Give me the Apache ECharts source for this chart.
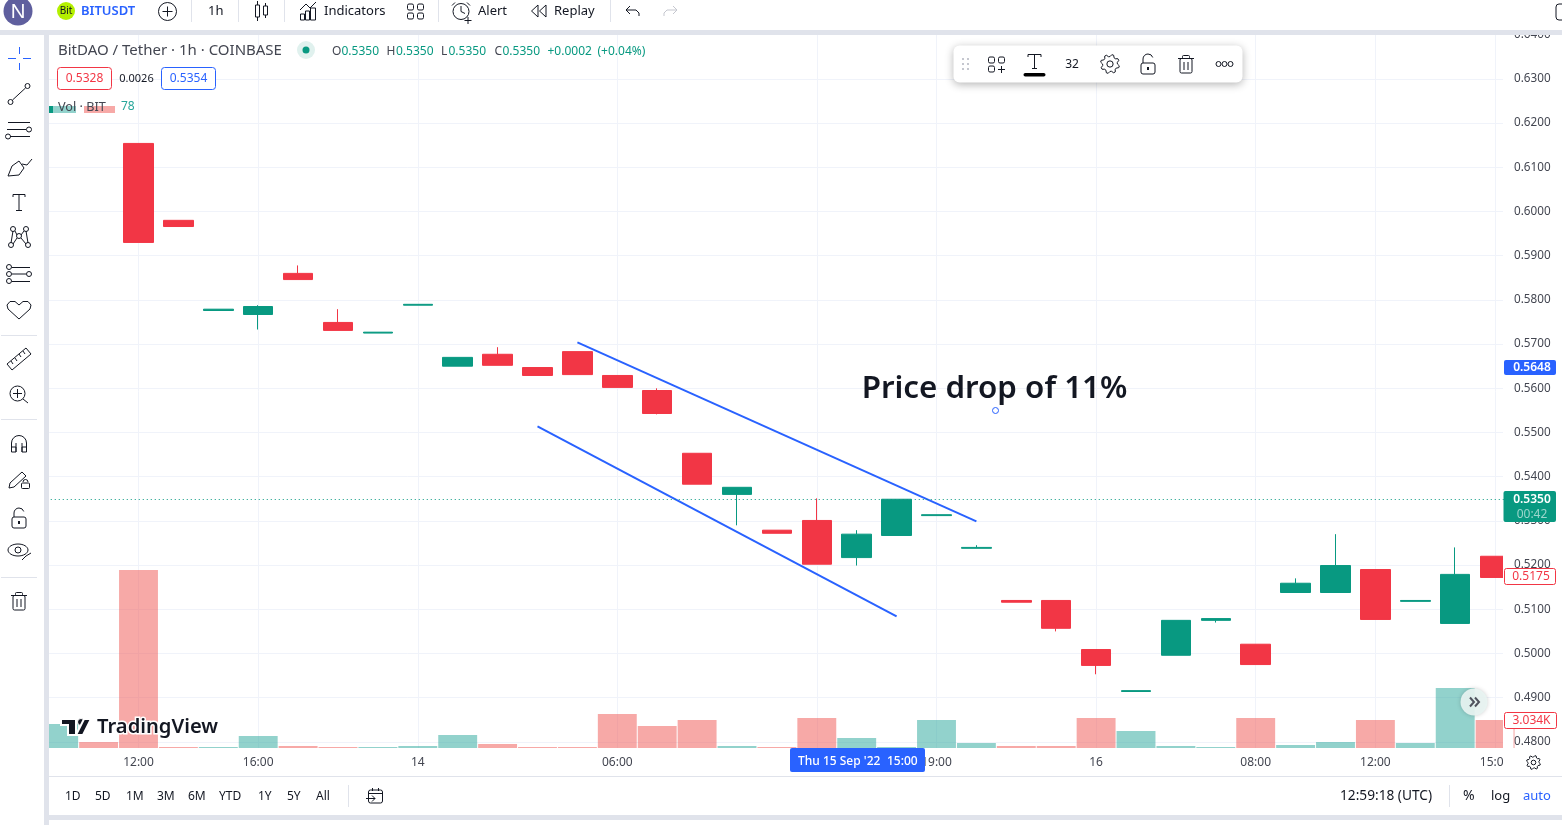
<!DOCTYPE html>
<html><head><meta charset="utf-8">
<style>html,body{margin:0;padding:0;background:#fff;overflow:hidden}#c{width:1562px;height:825px}</style>
<script src="https://cdn.jsdelivr.net/npm/echarts@6/dist/echarts.min.js"></script>
</head><body><div id="c"></div>
<script>
const timeLabels=['','','12:00','','','16:00','','','','14','','','','','06:00','','','','','','','','19:00','','','','16','','','','08:00','','','12:00','','','15:00'];
const gridLineIdx=[2,5,9,14,19,22,26,30,33,36];
const opens=[null,null,.6154,.5980,.5776,.5767,.5860,.5749,.5725,.5788,.5650,.5677,.5647,.5683,.5629,.5595,.5453,.5360,.5279,.5301,.5217,.5267,.5312,.5238,.5120,.5120,.5009,.4914,.4996,.5075,.5021,.5138,.5138,.5190,.5118,.5068,.5220];
const closes=[null,null,.5930,.5966,.5779,.5785,.5846,.5731,.5727,.5790,.5670,.5652,.5629,.5631,.5602,.5543,.5383,.5376,.5272,.5202,.5270,.5349,.5314,.5240,.5116,.5057,.4973,.4916,.5075,.5079,.4975,.5159,.5199,.5077,.5120,.5179,.5172];
const lows=[null,null,.5930,.5966,.5776,.5733,.5846,.5731,.5725,.5788,.5650,.5652,.5629,.5631,.5602,.5541,.5383,.5290,.5272,.5202,.5199,.5267,.5312,.5238,.5116,.5050,.4953,.4914,.4996,.5070,.4975,.5138,.5138,.5077,.5118,.5068,.5172];
const highs=[null,null,.6154,.5980,.5779,.5788,.5878,.5779,.5727,.5790,.5670,.5693,.5647,.5683,.5629,.5600,.5453,.5376,.5279,.5351,.5279,.5349,.5314,.5245,.5120,.5120,.5009,.4916,.5075,.5079,.5021,.5170,.5270,.5190,.5120,.5240,.5220];
const volumes=[2600,650,19290,110,110,1300,220,110,110,220,1410,435,110,110,3685,2385,3034,220,110,3250,1085,110,3034,540,220,220,3250,1840,220,110,3250,325,650,3034,540,6500,3034];
const volumeUp=[1,0,0,0,1,1,0,0,1,1,1,0,0,0,0,0,0,1,0,0,1,1,1,1,0,0,0,1,1,1,0,1,1,0,1,1,0];
const priceTicks={min:.47,max:.64,interval:.01};
const trendLines=[[[13,.5704],[23,.5299]],[[12,.5514],[21,.5084]]];
const lastPriceLine=.5348;

const F='"Noto Sans"',K='#131722',G='#434651',B='#2962ff',UP='#089981',DN='#f23645',BAND='#e0e3eb';
const g=[];
const add=(e,z)=>{e.z=z==null?30:z;e.silent=true;g.push(e);return e;};
const L=(x1,y1,x2,y2,c,w,z)=>add({type:'line',shape:{x1,y1,x2,y2},style:{stroke:c||K,lineWidth:w||1}},z);
const R=(x,y,w,h,st,r,z)=>add({type:'rect',shape:{x,y,width:w,height:h,r:r||0},style:Object.assign({fill:'none'},st)},z);
const C=(cx,cy,r,st,z)=>add({type:'circle',shape:{cx,cy,r},style:Object.assign({fill:'none',stroke:K,lineWidth:1},st)},z);
const P=(pts,st,z)=>add({type:'polyline',shape:{points:pts},style:Object.assign({fill:'none',stroke:K,lineWidth:1},st)},z);
const PG=(pts,st,z)=>add({type:'polygon',shape:{points:pts},style:Object.assign({fill:K},st)},z);
const A=(cx,cy,r,s,e,st,z)=>add({type:'arc',shape:{cx,cy,r,startAngle:s,endAngle:e},style:Object.assign({fill:'none',stroke:K,lineWidth:1},st)},z);
const T=(x,y,text,size,color,o,z)=>add({type:'text',style:Object.assign({x,y:y+1,text,font:`${(o&&o.weight)||400} ${size}px ${F}`,fill:color||K,align:'left',verticalAlign:'middle'},o&&o.extra)},z);

/* panels */
R(1503,35,10.5,741,{fill:'#fff'},0,5);
R(0,0,1562,30,{fill:'#fff'},0,20);
R(0,30,1562,5,{fill:BAND},0,20);
R(0,35,44,790,{fill:'#fff'},0,20);
R(44,30,5,795,{fill:BAND},0,20);
R(49,776,1513,39,{fill:'#fff'},0,20);
R(49,776,1513,1,{fill:BAND},0,21);
R(49,815,1513,5,{fill:BAND},0,21);

/* top toolbar */
C(18,11,14.5,{fill:'#5f5f9e',stroke:'none'});
T(18,11,'N',20,'#fff',{extra:{align:'center'}});
C(66,11,9,{fill:'#b4f000',stroke:'none'});
T(66,10.5,'Bit',10,K,{extra:{align:'center'}});
T(81,10.5,'BITUSDT',13,B,{weight:600});
C(167.5,11.5,9);L(162.5,11.5,172.5,11.5);L(167.5,6.5,167.5,16.5);
[191,238,284,438,610].forEach(x=>L(x+.5,0,x+.5,22,BAND));
T(208,10.5,'1h',13,K);
R(255.5,5,4,12,{stroke:K,lineWidth:1});L(257.5,1,257.5,5);L(257.5,17,257.5,21);
R(263.5,6,4,9,{stroke:K,lineWidth:1});L(265.5,3,265.5,6);L(265.5,15,265.5,18);
P([[300,10],[306,4],[310,8],[316,2]]);
R(300.5,14,4,6,{stroke:K,lineWidth:1});R(305.5,11,4,9,{stroke:K,lineWidth:1});R(310.5,8,5,12,{stroke:K,lineWidth:1});
T(324,10.5,'Indicators',13,K);
R(407.5,4,6,6,{stroke:K,lineWidth:1},1.5);R(417.5,4,6,6,{stroke:K,lineWidth:1},1.5);R(407.5,13,6,6,{stroke:K,lineWidth:1},1.5);R(417.5,13,6,6,{stroke:K,lineWidth:1},1.5);
C(461,11.5,8);L(461,6,461,11.5);L(461,11.5,465,13.5);L(455,2.5,452,5.5);L(467,2.5,470,5.5);L(468,17,468,24);L(464.5,20.5,471.5,20.5);
T(478,10.5,'Alert',13,K);
P([[538,5],[531.5,11],[538,17],[538,5]]);P([[546,5],[539.5,11],[546,17],[546,5]]);
T(554,10.5,'Replay',13,K);
P([[630,6],[626,10],[630,14]]);P([[626,10],[636,10],[639,13],[639,16]]);
P([[673,6],[677,10],[673,14]],{stroke:'#c5c7cf'});P([[677,10],[667,10],[664,13],[664,16]],{stroke:'#c5c7cf'});
R(1556,4,12,16,{stroke:K,lineWidth:1},3);

/* legend */
T(58,50,'BitDAO / Tether · 1h · COINBASE',15,G);
C(306,50,9,{fill:'#e0f1ee',stroke:'none'});C(306,50,3.5,{fill:UP,stroke:'none'});
[['O',332,'0.5350',341.5],['H',386.5,'0.5350',396],['L',441,'0.5350',448.5],['C',494.5,'0.5350',502.5]].forEach(a=>{T(a[1],50.5,a[0],12,G);T(a[3],50.5,a[2],12,UP);});
T(547.5,50.5,'+0.0002',12,UP);T(597.5,50.5,'(+0.04%)',12,UP);
R(57.5,67.5,54,22,{fill:'#fff',stroke:DN,lineWidth:1},3);T(84.5,78,'0.5328',12,DN,{extra:{align:'center'}});
T(136.5,78,'0.0026',11,K,{extra:{align:'center'}});
R(161.5,67.5,54,22,{fill:'#fff',stroke:B,lineWidth:1},3);T(188.5,78,'0.5354',12,B,{extra:{align:'center'}});
R(49,106,27,7,{fill:'#92d2cc',stroke:'none'});R(49,106,4,7,{fill:UP,stroke:'none'});R(84,106,31,7,{fill:'#f7a9a7',stroke:'none'});
T(58,106,'Vol · BIT',12.7,G);T(121,106,'78',12,'#26a69a');

/* floating tool bar */
R(953.5,45.5,289,37,{fill:'#fff',stroke:'none',shadowBlur:8,shadowColor:'rgba(0,0,0,.3)',shadowOffsetY:2},6,25);
[59,64,69].forEach(y=>{R(962,y-1,2,2,{fill:'#c5c7cf'});R(967,y-1,2,2,{fill:'#c5c7cf'});});
R(988.5,57,6,6,{stroke:K,lineWidth:1},1.5);R(998.5,57,6,6,{stroke:K,lineWidth:1},1.5);R(988.5,66,6,6,{stroke:K,lineWidth:1},1.5);L(998,69.5,1005,69.5);L(1001.5,66,1001.5,73);
L(1028,54.5,1041,54.5);L(1028,54.5,1028,57);L(1041,54.5,1041,57);L(1034.5,54.5,1034.5,68);L(1032,68.5,1037,68.5);
R(1023.5,73,22,3.5,{fill:'#000'},1.75);
T(1072,63.5,'32',12,K,{extra:{align:'center'}});
const gear=(cx,cy,r)=>{const pts=[];for(let i=0;i<32;i++){const a=i*Math.PI/16;const rr=(i%4<2)?r:r*.78;pts.push([cx+rr*Math.cos(a+Math.PI/16),cy+rr*Math.sin(a+Math.PI/16)]);}add({type:'polygon',shape:{points:pts},style:{fill:'none',stroke:K,lineWidth:1}});C(cx,cy,r*.33);};
gear(1110,64,9.5);
const lock=(x,y)=>{R(x-7,y-1,14,11,{stroke:K,lineWidth:1},2);A(x,y-5,5,Math.PI,-Math.PI*.1,{},30);L(x-5,y-5,x-5,y-1);L(x,y+3,x,y+6,K,2);};
lock(1148,64);
const trash=(x,y)=>{L(x-8,y-5.5,x+8,y-5.5);R(x-3.5,y-8.5,7,3,{stroke:K,lineWidth:1},1);R(x-6,y-5.5,12,14.5,{stroke:K,lineWidth:1},1.5);L(x-2,y-2,x-2,y+6);L(x+2,y-2,x+2,y+6);};
trash(1186,64);
[1218.5,1224.5,1230.5].forEach(x=>C(x,64,2.5));

/* drawing tools */
L(19.5,47,19.5,54,B);L(19.5,63,19.5,70,B);L(8,58.5,16,58.5,B);L(23,58.5,31,58.5,B);
C(10.5,102,2.5);C(27.5,86,2.5);L(12.5,100,25.5,88);
L(8,122.5,30,122.5);L(7,129.5,26,129.5);C(29,129.5,2.5);L(10,136.5,30,136.5);C(8,136.5,2.5);
P([[8,176],[12,166],[19,161],[24,168],[19,175],[8,176]]);P([[22,164],[27,165],[32,159]]);
L(13,194.5,25,194.5);L(13,194.5,13,197);L(25,194.5,25,197);L(19,194.5,19,210);L(16,210.5,22,210.5);
[[13,229],[26,229],[19,236],[11,245],[28,245]].forEach(p=>C(p[0],p[1],2.5));L(13,231,11,243);L(15,231,17,235);L(24,231,21,235);L(17,238,13,244);L(21,238,26,244);L(26,231,28,243);
C(9,267,2.5);L(12,267.5,30,267.5);C(9,274,2.5);C(29,274,2.5);L(12,274,26,274);C(9,281,2.5);L(12,281.5,30,281.5);
P([[19,319],[8,309],[7,305],[10,301.5],[15,301.5],[19,305],[23,301.5],[28,301.5],[31,305],[30,309],[19,319]]);
L(1,335.5,37,335.5,BAND);L(1,419.5,37,419.5,BAND);L(1,577.5,37,577.5,BAND);
add({type:'polygon',shape:{points:[[7,364],[26,348],[31,354],[12,370]]},style:{fill:'none',stroke:K,lineWidth:1}});
[[11,361,13,364],[15,358,17,361],[19,354,21,357],[23,351,25,354]].forEach(a=>L(a[0],a[1],a[2],a[3]));
C(17.5,393.5,7.5);L(13,393.5,22,393.5);L(17.5,389,17.5,398);L(23,399,28,403);
A(19,443,7.5,Math.PI,0,{},30);L(11.5,443,11.5,452);L(26.5,443,26.5,452);L(16,443,16,452);L(22,443,22,452);R(11.5,447,4.5,5,{stroke:K,lineWidth:1});R(22,447,4.5,5,{stroke:K,lineWidth:1});
add({type:'polygon',shape:{points:[[10,483],[22,472],[26,476],[14,487],[9,488]]},style:{fill:'none',stroke:K,lineWidth:1}});
R(21.5,483,8,5.5,{fill:'#fff',stroke:K,lineWidth:1},1);A(25.5,482,2.5,Math.PI,0,{},30);
lock(19,518);
add({type:'ellipse',shape:{cx:18,cy:550,rx:10,ry:6},style:{fill:'none',stroke:K,lineWidth:1}});C(18,550,3);P([[22,560],[26,556],[31,553]]);
trash(19,601);

/* watermark */
const halo={stroke:'#fff',lineWidth:2};
PG([[61,719],[76,719],[76,735],[68,735],[68,725],[61,725]],halo,28);
C(81,722,3.5,{fill:K,stroke:'#fff',lineWidth:1},28);
PG([[84,719],[91,719],[83,735],[76,735]],halo,28);
T(97,726,'TradingView',20.2,K,{weight:600,extra:{stroke:'#fff',lineWidth:3}},28);

/* annotation */
T(994.5,388,'Price drop of 11%',31.3,K,{weight:600,extra:{align:'center'}},10);
C(995.5,410.5,3,{stroke:B,fill:'#fff'},10);

/* price tags */
R(1504,360,52,15,{fill:B},2);T(1532,367,'0.5648',12,'#fff',{weight:600,extra:{align:'center'}});
R(1503.5,491,52.5,31,{fill:UP},2);T(1532,499,'0.5350',12,'#fff',{weight:600,extra:{align:'center'}});T(1532,513.5,'00:42',12,'#9cd6cc',{extra:{align:'center'}});
R(1504.5,568.5,51,16,{fill:'#fff',stroke:DN,lineWidth:1},2);T(1531,576,'0.5175',12,DN,{extra:{align:'center'}});
R(1504.5,712.5,52,16,{fill:'#fff',stroke:DN,lineWidth:1},2);T(1531.5,720,'3.034K',12,DN,{extra:{align:'center'}});
C(1474,702,13.5,{fill:'rgba(232,244,242,.92)',stroke:'none',shadowBlur:4,shadowColor:'rgba(0,0,0,.2)'},25);
P([[1470,697.5],[1474,702],[1470,706.5]],{stroke:'#50535e',lineWidth:2});P([[1475,697.5],[1479,702],[1475,706.5]],{stroke:'#50535e',lineWidth:2});

/* crosshair time tag */
R(790,748,135,24,{fill:B},2,15);
T(798,761,"Thu 15 Sep '22",12,'#fff',{weight:500},16);
T(887,761,'15:00',12,'#fff',{weight:500},16);
gear(1533.5,762.5,7);

/* bottom bar */
[['1D',65],['5D',95],['1M',126],['3M',157],['6M',188],['YTD',219],['1Y',258],['5Y',287],['All',316]].forEach(a=>T(a[1],795.5,a[0],12,K));
L(348.5,785,348.5,807,BAND);L(1449.5,785,1449.5,807,BAND);
R(368.5,790,14,13,{stroke:K,lineWidth:1},2);L(368,793.5,383,793.5);L(372.5,788,372.5,791);L(378.5,788,378.5,791);L(366,798.5,375,798.5);P([[372,795.5],[375,798.5],[372,801.5]]);
T(1340,795.5,'12:59:18 (UTC)',13.7,K);
T(1463,795.5,'%',14,K);T(1491,795.5,'log',13,K);T(1523,795.5,'auto',13,B);

const chart=echarts.init(document.getElementById('c'),null,{renderer:'canvas'});
const xBase={type:'category',data:timeLabels,boundaryGap:true,axisLine:{show:false},axisTick:{show:false},splitLine:{show:false}};
chart.setOption({
 animation:false,
 backgroundColor:'#fff',
 grid:[{left:38.75,width:1476.3,top:34.7,height:751.4},{left:38.75,width:1476.3,top:35,height:713}],
 xAxis:[Object.assign({},xBase,{gridIndex:0,axisLabel:{show:false}}),
        Object.assign({},xBase,{gridIndex:1,axisLabel:{interval:0,margin:9,color:G,fontFamily:F,fontSize:12,hideOverlap:false}})],
 yAxis:[{type:'value',gridIndex:0,position:'right',min:priceTicks.min,max:priceTicks.max,interval:priceTicks.interval,scale:true,
         axisLine:{show:false},axisTick:{show:false},splitLine:{show:true,lineStyle:{color:'#f0f3fa',width:1}},
         axisLabel:{margin:-1,color:G,fontFamily:F,fontSize:11.7,padding:[3,0,0,0],formatter:v=>v.toFixed(4)}},
        {type:'value',gridIndex:1,min:0,max:77260,show:false,splitLine:{show:false}}],
 series:[
  {type:'bar',xAxisIndex:1,yAxisIndex:1,z:1,barWidth:38.9,silent:true,
   data:volumes.map((v,i)=>({value:v,itemStyle:{color:volumeUp[i]?'rgba(38,166,154,.5)':'rgba(239,83,80,.5)'}})),
   markLine:{z:1,silent:true,symbol:'none',animation:false,label:{show:false},lineStyle:{color:'#f0f3fa',width:1,type:'solid'},data:gridLineIdx.map(i=>({xAxis:i}))}},
  {type:'candlestick',xAxisIndex:0,yAxisIndex:0,z:2,barWidth:30,silent:true,
   itemStyle:{color:UP,color0:DN,borderColor:UP,borderColor0:DN,borderWidth:1},
   data:opens.map((o,i)=>o==null?'-':[o,closes[i],lows[i],highs[i]]),
   markLine:{precision:4,silent:true,symbol:'none',animation:false,label:{show:false},
    data:[[{coord:trendLines[0][0],lineStyle:{color:B,width:2,type:'solid'}},{coord:trendLines[0][1]}],
          [{coord:trendLines[1][0],lineStyle:{color:B,width:2,type:'solid'}},{coord:trendLines[1][1]}],
          {yAxis:lastPriceLine,lineStyle:{color:UP,width:1,type:[1,3]}}]}}
 ],
 graphic:{elements:g}
});
</script></body></html>
